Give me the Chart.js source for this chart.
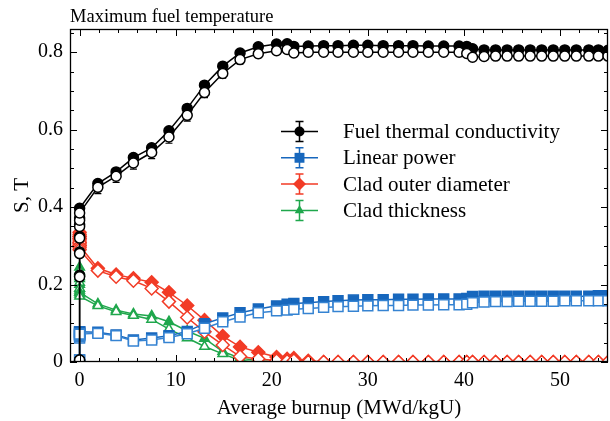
<!DOCTYPE html>
<html>
<head>
<meta charset="utf-8">
<script src="https://cdn.jsdelivr.net/npm/chart.js@4.4.0/dist/chart.umd.min.js"></script>
<style>
  html, body { margin: 0; padding: 0; background: #fff; }
  #wrap { position: relative; width: 610px; height: 421px; }
</style>
</head>
<body>
<div id="wrap"><canvas id="sensChart" width="610" height="421"></canvas></div>
<script>
// burnup steps (MWd/kgU); the first seven are the start-up steps at zero burnup
const burnup = [0, 0, 0, 0, 0, 0, 0,
  1.9, 3.8, 5.6, 7.5, 9.3, 11.2, 13.0, 14.9, 16.7, 18.6,
  20.5, 21.6, 22.3, 23.8, 25.4, 26.9, 28.5, 30.0, 31.6, 33.2,
  34.7, 36.3, 37.9, 39.5, 40.3, 40.9, 42.1, 43.3, 44.5, 45.7,
  46.9, 48.1, 49.3, 50.5, 51.7, 53.0, 54.0, 55.0];

// first-order (S) and total (T) indices for each input parameter
const fuelCondS = [0.005, 0.224, 0.284, 0.324, 0.355, 0.372, 0.397,
  0.461, 0.491, 0.528, 0.553, 0.597, 0.655, 0.715, 0.764, 0.798, 0.814,
  0.821, 0.822, 0.815, 0.816, 0.817, 0.817, 0.818, 0.818, 0.817, 0.817,
  0.817, 0.816, 0.816, 0.816, 0.815, 0.809, 0.806, 0.806, 0.806, 0.806,
  0.806, 0.806, 0.806, 0.806, 0.806, 0.806, 0.806, 0.805];
const fuelCondT = [0.005, 0.22, 0.28, 0.32, 0.35, 0.366, 0.385,
  0.451, 0.480, 0.514, 0.541, 0.581, 0.637, 0.696, 0.745, 0.781, 0.796,
  0.804, 0.807, 0.798, 0.800, 0.800, 0.800, 0.800, 0.800, 0.800, 0.800,
  0.800, 0.800, 0.800, 0.800, 0.797, 0.787, 0.789, 0.790, 0.790, 0.790,
  0.790, 0.790, 0.790, 0.790, 0.790, 0.790, 0.790, 0.790];
const fuelCondErr = [0, 0, 0, 0, 0, 0, 0,
  0.016, 0.016, 0.016, 0.016, 0.016, 0.015, 0.013, 0.012, 0.011, 0.010,
  0.008, 0.008, 0.008, 0.008, 0.008, 0.008, 0.008, 0.008, 0.008, 0.008,
  0.008, 0.008, 0.008, 0.008, 0.008, 0.008, 0.008, 0.008, 0.008, 0.008,
  0.008, 0.008, 0.008, 0.008, 0.008, 0.008, 0.008, 0.008];

const powerS = [0.005, 0.068, 0.072, 0.075, 0.077, 0.078, 0.078,
  0.077, 0.070, 0.057, 0.062, 0.068, 0.079, 0.099, 0.114, 0.127, 0.137,
  0.145, 0.149, 0.151, 0.153, 0.156, 0.158, 0.160, 0.161, 0.161, 0.162,
  0.162, 0.163, 0.163, 0.163, 0.164, 0.169, 0.170, 0.170, 0.170, 0.170,
  0.170, 0.170, 0.170, 0.170, 0.170, 0.170, 0.171, 0.171];
const powerT = [0.005, 0.062, 0.066, 0.069, 0.071, 0.072, 0.072,
  0.074, 0.068, 0.054, 0.057, 0.063, 0.073, 0.087, 0.104, 0.116, 0.127,
  0.132, 0.134, 0.136, 0.138, 0.141, 0.143, 0.144, 0.145, 0.146, 0.146,
  0.147, 0.147, 0.148, 0.148, 0.149, 0.153, 0.155, 0.156, 0.156, 0.157,
  0.157, 0.157, 0.157, 0.158, 0.158, 0.158, 0.158, 0.158];

const cladOdS = [0.335, 0.330, 0.325, 0.318, 0.310, 0.305, 0.300,
  0.242, 0.226, 0.216, 0.206, 0.180, 0.146, 0.108, 0.067, 0.039, 0.025,
  0.013, 0.008, 0.010, 0.003, 0, 0, 0, 0, 0, 0,
  0, 0, 0, 0, 0, 0, 0, 0, 0, 0,
  0, 0, 0, 0, 0, 0, 0, 0];
const cladOdT = [0.325, 0.320, 0.315, 0.308, 0.300, 0.295, 0.290,
  0.236, 0.220, 0.210, 0.190, 0.156, 0.115, 0.078, 0.044, 0.014, 0.008,
  0.004, 0.002, 0.004, 0, 0, 0, 0, 0, 0, 0,
  0, 0, 0, 0, 0, 0, 0, 0, 0, 0,
  0, 0, 0, 0, 0, 0, 0, 0];

const cladThS = [0.245, 0.230, 0.215, 0.200, 0.190, 0.185, 0.180,
  0.150, 0.134, 0.124, 0.119, 0.104, 0.080, 0.061, 0.027, 0.010, 0.003,
  0, 0, 0, 0, 0, 0, 0, 0, 0, 0,
  0, 0, 0, 0, 0, 0, 0, 0, 0, 0,
  0, 0, 0, 0, 0, 0, 0, 0];
const cladThT = [0.235, 0.220, 0.205, 0.190, 0.180, 0.175, 0.170,
  0.145, 0.130, 0.120, 0.110, 0.085, 0.062, 0.040, 0.021, 0.004, 0,
  0, 0, 0, 0, 0, 0, 0, 0, 0, 0,
  0, 0, 0, 0, 0, 0, 0, 0, 0, 0,
  0, 0, 0, 0, 0, 0, 0, 0];

const seriesNames = ['Fuel thermal conductivity', 'Linear power', 'Clad outer diameter', 'Clad thickness'];
const xTicks = [0, 10, 20, 30, 40, 50];
const yTicks = [0, 0.2, 0.4, 0.6, 0.8];
const yTickLabels = ['0', '0.2', '0.4', '0.6', '0.8'];

const FONT = 'Liberation Serif';
const BLACK = '#000000';
const BLUE = '#1767bd';
const BLUE_OPEN = '#3583d2';
const RED = '#f23b26';
const GREEN = '#1fa74c';

const styles = [
  { color: BLACK, shape: 'circle', radius: 5 },
  { color: BLUE, shape: 'rect', radius: 7 },
  { color: RED, shape: 'rectRot', radius: 6.5 },
  { color: GREEN, shape: 'triangle', radius: 5.5 }
];

const pts = ys => burnup.map((x, i) => ({ x: x, y: ys[i] }));

function series(values, k, open, extra) {
  const st = styles[k];
  const c = (open && k === 1) ? BLUE_OPEN : st.color;
  return Object.assign({
    label: seriesNames[k] + (open ? ' (T)' : ' (S)'),
    data: pts(values),
    borderColor: c,
    borderWidth: 1.5,
    pointStyle: st.shape,
    pointRadius: st.radius,
    pointBorderWidth: 1.5,
    pointBorderColor: c,
    pointBackgroundColor: open ? '#ffffff' : st.color,
    tension: 0
  }, extra || {});
}

// vertical error bars with caps, drawn under the markers
const errorBars = {
  id: 'errorBars',
  beforeDatasetsDraw(chart) {
    const { ctx, chartArea: a, scales: { x, y } } = chart;
    ctx.save();
    ctx.beginPath();
    ctx.rect(a.left, a.top, a.width, a.height);
    ctx.clip();
    chart.data.datasets.forEach(ds => {
      if (!ds.errors) return;
      ctx.strokeStyle = ds.borderColor;
      ctx.lineWidth = 1.2;
      ds.data.forEach((p, i) => {
        const e = ds.errors[i];
        if (!e) return;
        const px = x.getPixelForValue(p.x);
        const y0 = y.getPixelForValue(p.y - e);
        const y1 = y.getPixelForValue(p.y + e);
        ctx.beginPath();
        ctx.moveTo(px, y0); ctx.lineTo(px, y1);
        ctx.moveTo(px - 3.5, y0); ctx.lineTo(px + 3.5, y0);
        ctx.moveTo(px - 3.5, y1); ctx.lineTo(px + 3.5, y1);
        ctx.stroke();
      });
    });
    ctx.restore();
  }
};

// box frame with inward ticks on all four sides
const frameTicks = {
  id: 'frameTicks',
  afterDatasetsDraw(chart) {
    const { ctx, chartArea: a, scales: { x, y } } = chart;
    ctx.save();
    ctx.strokeStyle = '#000';
    ctx.lineWidth = 1;
    ctx.beginPath();
    for (let v = 0; v <= 55; v += 2) {
      const len = xTicks.includes(v) ? 7 : 4;
      const px = Math.round(x.getPixelForValue(v)) + 0.5;
      ctx.moveTo(px, a.bottom); ctx.lineTo(px, a.bottom - len);
      ctx.moveTo(px, a.top); ctx.lineTo(px, a.top + len);
    }
    for (let k = 0; k <= 17; k++) {
      const len = k % 4 === 0 ? 7 : 4;
      const py = Math.round(y.getPixelForValue(k * 0.05)) + 0.5;
      ctx.moveTo(a.left, py); ctx.lineTo(a.left + len, py);
      ctx.moveTo(a.right, py); ctx.lineTo(a.right - len, py);
    }
    ctx.stroke();
    ctx.lineWidth = 1.3;
    ctx.strokeRect(a.left + 0.5, a.top + 0.5, a.width - 1, a.height - 1);
    ctx.restore();
  }
};

function marker(ctx, shape, cx, cy, r) {
  ctx.beginPath();
  if (shape === 'circle') {
    ctx.arc(cx, cy, r, 0, Math.PI * 2);
  } else if (shape === 'rect') {
    const s = r * Math.SQRT1_2;
    ctx.rect(cx - s, cy - s, 2 * s, 2 * s);
  } else if (shape === 'rectRot') {
    ctx.moveTo(cx - r, cy); ctx.lineTo(cx, cy - r);
    ctx.lineTo(cx + r, cy); ctx.lineTo(cx, cy + r);
    ctx.closePath();
  } else {
    ctx.moveTo(cx, cy - r);
    ctx.lineTo(cx + r * 0.866, cy + r * 0.5);
    ctx.lineTo(cx - r * 0.866, cy + r * 0.5);
    ctx.closePath();
  }
  ctx.fill();
}

// legend inside the plot plus the small heading above it
const legendAndHeading = {
  id: 'legendAndHeading',
  afterDraw(chart) {
    const { ctx, chartArea: a } = chart;
    ctx.save();
    ctx.fillStyle = '#000';
    ctx.font = '18.5px "' + FONT + '"';
    ctx.textAlign = 'left';
    ctx.textBaseline = 'alphabetic';
    ctx.fillText('Maximum fuel temperature', a.left, 22);

    const x0 = a.left + 211, x1 = a.left + 248, xm = a.left + 229.5;
    const textX = a.left + 273;
    ctx.font = '21px "' + FONT + '"';
    ctx.textBaseline = 'middle';
    seriesNames.forEach((name, i) => {
      const st = styles[i];
      const cy = a.top + 102.5 + i * 26.3;
      ctx.strokeStyle = st.color;
      ctx.lineWidth = 1.5;
      ctx.beginPath();
      ctx.moveTo(x0, cy); ctx.lineTo(x1, cy);
      ctx.moveTo(xm, cy - 10); ctx.lineTo(xm, cy + 10);
      ctx.moveTo(xm - 4, cy - 10); ctx.lineTo(xm + 4, cy - 10);
      ctx.moveTo(xm - 4, cy + 10); ctx.lineTo(xm + 4, cy + 10);
      ctx.stroke();
      ctx.fillStyle = st.color;
      marker(ctx, st.shape, xm, cy, st.radius);
      ctx.fillStyle = '#000';
      ctx.fillText(name, textX, cy + 1);
    });
    ctx.restore();
  }
};

Chart.defaults.font.family = FONT;
Chart.defaults.color = '#000';

new Chart(document.getElementById('sensChart').getContext('2d'), {
  type: 'line',
  data: {
    datasets: [
      series(fuelCondT, 0, true, { errors: fuelCondErr }),
      series(fuelCondS, 0, false),
      series(powerT, 1, true),
      series(powerS, 1, false),
      series(cladOdT, 2, true),
      series(cladOdS, 2, false),
      series(cladThT, 3, true),
      series(cladThS, 3, false)
    ]
  },
  options: {
    responsive: false,
    animation: false,
    devicePixelRatio: 1,
    layout: { autoPadding: false, padding: { top: 29, right: 2, left: 0, bottom: 0 } },
    plugins: {
      legend: { display: false },
      tooltip: { enabled: false },
      title: { display: false }
    },
    scales: {
      x: {
        type: 'linear',
        min: -1,
        max: 55,
        grid: { display: false, drawTicks: false },
        border: { display: false },
        afterBuildTicks: s => { s.ticks = xTicks.map(v => ({ value: v })); },
        afterFit: s => { s.height = 59; s.paddingLeft = 0; s.paddingRight = 0; },
        ticks: { font: { size: 20 }, padding: 7, maxRotation: 0, autoSkip: false },
        title: {
          display: true,
          text: 'Average burnup (MWd/kgU)',
          font: { size: 21 },
          padding: { top: 0, bottom: 0 }
        }
      },
      y: {
        type: 'linear',
        min: 0,
        max: 0.86,
        grid: { display: false, drawTicks: false },
        border: { display: false },
        afterBuildTicks: s => { s.ticks = yTicks.map(v => ({ value: v })); },
        afterFit: s => { s.width = 70; s.paddingTop = 0; s.paddingBottom = 0; },
        ticks: {
          font: { size: 20 },
          padding: 7,
          callback: v => yTickLabels[yTicks.indexOf(v)]
        },
        title: {
          display: true,
          text: 'S, T',
          font: { size: 21 },
          padding: { top: 10, bottom: 0 }
        }
      }
    }
  },
  plugins: [errorBars, frameTicks, legendAndHeading]
});
</script>
</body>
</html>
